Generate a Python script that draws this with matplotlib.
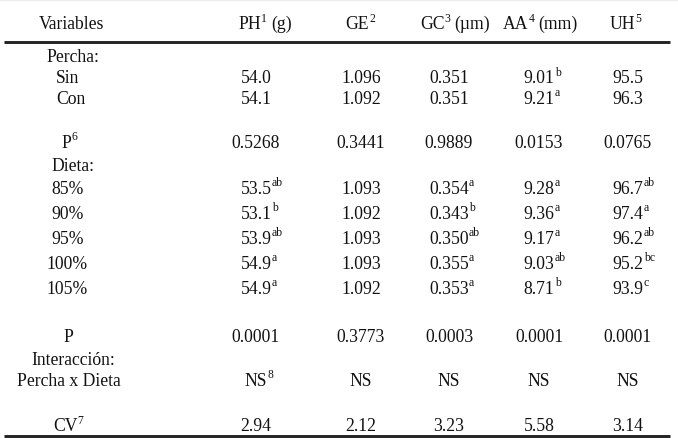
import numpy as np
import matplotlib.pyplot as plt

# column headers: (name, superscript, unit)
headers = [('PH', '1', '(g)'), ('GE', '2', ''), ('GC', '3', '(µm)'),
           ('AA', '4', '(mm)'), ('UH', '5', '')]
decimals = [1, 3, 3, 2, 1]

percha_labels = ['Sin', 'Con']
percha_vals = [[54.0, 1.096, 0.351, 9.01, 95.5],
               [54.1, 1.092, 0.351, 9.21, 96.3]]
percha_sups = [['', '', '', 'b', ''],
               ['', '', '', 'a', '']]
p_percha = [0.5268, 0.3441, 0.9889, 0.0153, 0.0765]

dieta_labels = ['85%', '90%', '95%', '100%', '105%']
dieta_vals = [[53.5, 1.093, 0.354, 9.28, 96.7],
              [53.1, 1.092, 0.343, 9.36, 97.4],
              [53.9, 1.093, 0.350, 9.17, 96.2],
              [54.9, 1.093, 0.355, 9.03, 95.2],
              [54.9, 1.092, 0.353, 8.71, 93.9]]
dieta_sups = [['ab', '', 'a', 'a', 'ab'],
              ['b', '', 'b', 'a', 'a'],
              ['ab', '', 'ab', 'a', 'ab'],
              ['a', '', 'a', 'ab', 'bc'],
              ['a', '', 'a', 'b', 'c']]
p_dieta = [0.0001, 0.3773, 0.0003, 0.0001, 0.0001]

interaccion = ['NS', 'NS', 'NS', 'NS', 'NS']
interaccion_sups = ['8', '', '', '', '']
cv = [2.94, 2.12, 3.23, 5.58, 3.14]

W, H = 678, 439
FS = 12.7
SUP_FS = 8.4
RAISE = 7.5
SUP_GAP = 0.2
COL = '#111111'

fig = plt.figure(figsize=(W / 100, H / 100), dpi=100)
ax = fig.add_axes([0, 0, 1, 1])
ax.set_xlim(0, W)
ax.set_ylim(H, 0)
ax.axis('off')
renderer = fig.canvas.get_renderer()
plt.rcParams['font.family'] = 'Liberation Serif'


def rich(x, y, parts, center='base'):
    # parts: (text, is_sup, gap_before) drawn left to right, y is baseline
    texts = []
    for s, sup, gap in parts:
        if sup:
            t = ax.text(0, y - RAISE, s, fontsize=SUP_FS, ha='left',
                        va='baseline', color=COL, family='Liberation Serif')
        else:
            t = ax.text(0, y, s, fontsize=FS, ha='left', va='baseline',
                        color=COL, family='Liberation Serif')
        texts.append(t)
    pos = []
    cur = 0.0
    for t, (s, sup, gap) in zip(texts, parts):
        cur += gap
        pos.append(cur)
        cur += t.get_window_extent(renderer).width
    if center == 'base':
        off = x - texts[0].get_window_extent(renderer).width / 2
    elif center == 'left':
        off = x
    else:
        off = x - cur / 2
    for t, p in zip(texts, pos):
        t.set_x(off + p)


def cell(x, y, base, sup=''):
    parts = [(base, False, 0)]
    if sup:
        parts.append((sup, True, SUP_GAP))
    rich(x, y, parts)


col_x = [256, 361, 449, 539, 628]
head_x = [265, 360, 455, 540, 625]

# header
rich(71, 29, [('Variables', False, 0)], center='all')
for hx, (name, sup, unit) in zip(head_x, headers):
    parts = [(name, False, 0), (sup, True, SUP_GAP)]
    if unit:
        parts.append((unit, False, 3.5))
    rich(hx, 29, parts, center='all')

ax.plot([4, 670], [43.3, 43.3], color='#222222', lw=2.1, solid_capstyle='butt')
ax.plot([0, W], [0.8, 0.8], color='#ececec', lw=1)

# Percha block
rich(46, 62.5, [('Percha:', False, 0)], center='left')
for yb, lab, vals, sups in zip([83.3, 104], percha_labels, percha_vals, percha_sups):
    rich(56, yb, [(lab, False, 0)], center='left')
    for x, v, s, d in zip(col_x, vals, sups, decimals):
        cell(x, yb, f'{v:.{d}f}', s)

rich(66.5, 148, [('P', False, 0), ('6', True, SUP_GAP)])
for x, v in zip(col_x, p_percha):
    cell(x, 148, f'{v:.4f}')

# Dieta block
rich(51, 171, [('Dieta:', False, 0)], center='left')
for yb, lab, vals, sups in zip([194, 219, 244, 269, 294], dieta_labels,
                               dieta_vals, dieta_sups):
    rich(67.5, yb, [(lab, False, 0)], center='all')
    for x, v, s, d in zip(col_x, vals, sups, decimals):
        cell(x, yb, f'{v:.{d}f}', s)

rich(68, 342, [('P', False, 0)])
for x, v in zip(col_x, p_dieta):
    cell(x, 342, f'{v:.4f}')

rich(73, 365.5, [('Interacción:', False, 0)], center='all')
rich(68.5, 386, [('Percha x Dieta', False, 0)], center='all')
for x, v, s in zip(col_x, interaccion, interaccion_sups):
    cell(x, 386, v, s)

rich(65, 431.5, [('CV', False, 0), ('7', True, SUP_GAP)])
for x, v in zip(col_x, cv):
    cell(x, 431.5, f'{v:.2f}')

ax.plot([4, 670], [437, 437], color='#222222', lw=2.1, solid_capstyle='butt')

fig.savefig('out.png', dpi=100)
